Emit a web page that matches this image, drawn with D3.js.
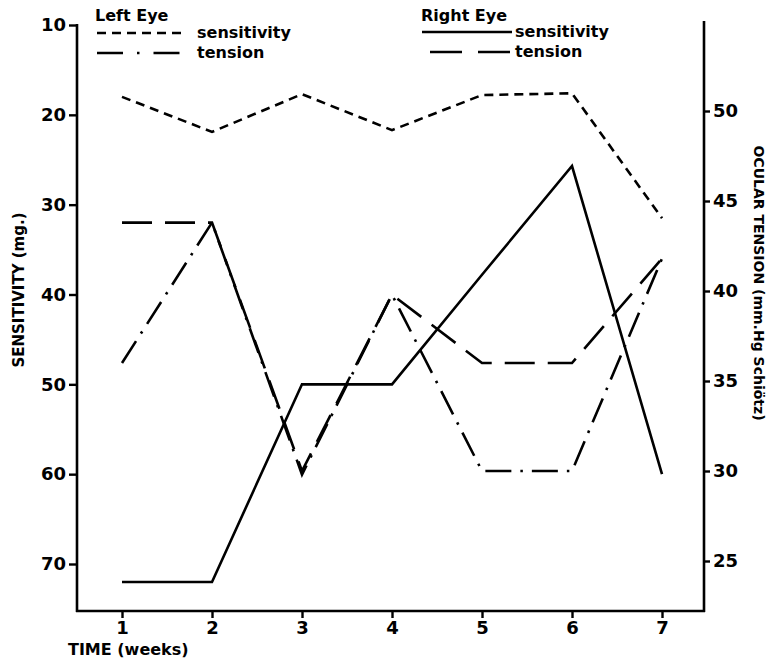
<!DOCTYPE html>
<html>
<head>
<meta charset="utf-8">
<script src="https://cdn.jsdelivr.net/npm/d3@7"></script>
<style>
  html, body { margin: 0; padding: 0; background: #fff; }
  svg { display: block; }
  text { font-family: "DejaVu Sans", sans-serif; font-weight: bold; fill: #000; }
</style>
</head>
<body>
<svg id="chart" width="778" height="660"></svg>
<script>
// Weekly readings for both eyes
const weeks = [1, 2, 3, 4, 5, 6, 7];
const leftSensitivity  = [18.0, 21.9, 17.7, 21.7, 17.8, 17.6, 31.5];
const rightSensitivity = [72.0, 72.0, 50.0, 50.0, 37.8, 25.7, 60.0];
const leftTension      = [36.0, 43.8, 29.8, 39.8, 30.0, 30.0, 41.8];
const rightTension     = [43.8, 43.8, 30.0, 39.8, 36.0, 36.0, 41.8];

// Tick labels
const sensitivityTicks = [10, 20, 30, 40, 50, 60, 70];
const tensionTicks = [25, 30, 35, 40, 45, 50];
const weekTicks = [1, 2, 3, 4, 5, 6, 7];

const svg = d3.select("#chart");

const leftX = 77, rightX = 704, baseY = 611;

const x = d3.scaleLinear().domain([1, 7]).range([122, 662]);
const ySens = d3.scaleLinear().domain([10, 70]).range([25, 564]);
const yTens = d3.scaleLinear().domain([50, 25]).range([111, 561]);

const INK = "#000";
const LW = 2.6;

// Line styles
const styles = {
  leftSens:  "9,6",
  leftTens:  "26,9,2.5,9",
  rightSens: null,
  rightTens: "30,13"
};

// ---- Axes ----
// Left axis (sensitivity)
svg.append("line")
  .attr("x1", leftX).attr("x2", leftX)
  .attr("y1", ySens(10) - 1).attr("y2", baseY + 1)
  .attr("stroke", INK).attr("stroke-width", 2.6);

const leftAxis = svg.append("g")
  .attr("transform", `translate(${leftX},0)`)
  .call(d3.axisLeft(ySens).tickValues(sensitivityTicks).tickSize(8).tickPadding(3));
leftAxis.select(".domain").remove();
leftAxis.selectAll(".tick line").attr("stroke", INK).attr("stroke-width", 2.4);
leftAxis.selectAll(".tick text")
  .style("font-size", "18px").style("font-family", "DejaVu Sans").style("font-weight", "bold")
  .attr("fill", INK);

// Right axis (ocular tension)
svg.append("line")
  .attr("x1", rightX).attr("x2", rightX)
  .attr("y1", 21).attr("y2", baseY + 1)
  .attr("stroke", INK).attr("stroke-width", 2.6);

const rightAxis = svg.append("g")
  .attr("transform", `translate(${rightX},0)`)
  .call(d3.axisRight(yTens).tickValues(tensionTicks).tickSize(6).tickPadding(3));
rightAxis.select(".domain").remove();
rightAxis.selectAll(".tick line").attr("stroke", INK).attr("stroke-width", 2.4);
rightAxis.selectAll(".tick text")
  .style("font-size", "18px").style("font-family", "DejaVu Sans").style("font-weight", "bold")
  .attr("fill", INK);

// Bottom axis (time)
svg.append("line")
  .attr("x1", leftX - 1).attr("x2", rightX + 1)
  .attr("y1", baseY).attr("y2", baseY)
  .attr("stroke", INK).attr("stroke-width", 2.6);

const bottomAxis = svg.append("g")
  .attr("transform", `translate(0,${baseY})`)
  .call(d3.axisBottom(x).tickValues(weekTicks).tickFormat(d3.format("d")).tickSize(7).tickPadding(3));
bottomAxis.select(".domain").remove();
bottomAxis.selectAll(".tick line").attr("stroke", INK).attr("stroke-width", 2.4);
bottomAxis.selectAll(".tick text")
  .style("font-size", "18px").style("font-family", "DejaVu Sans").style("font-weight", "bold")
  .attr("fill", INK);

// Axis titles
svg.append("text")
  .attr("transform", "translate(24,290) rotate(-90)")
  .attr("text-anchor", "middle")
  .style("font-size", "15px")
  .text("SENSITIVITY (mg.)");

svg.append("text")
  .attr("transform", "translate(754,283) rotate(90)")
  .attr("text-anchor", "middle")
  .style("font-size", "14px")
  .text("OCULAR TENSION (mm.Hg Schiötz)");

svg.append("text")
  .attr("x", 68).attr("y", 655)
  .style("font-size", "16px")
  .text("TIME (weeks)");

// ---- Data lines ----
const sensLine = d3.line().x((d, i) => x(weeks[i])).y(d => ySens(d));
const tensLine = d3.line().x((d, i) => x(weeks[i])).y(d => yTens(d));

function drawSeries(values, gen, dash) {
  const p = svg.append("path")
    .datum(values)
    .attr("d", gen)
    .attr("fill", "none")
    .attr("stroke", INK)
    .attr("stroke-width", LW)
    .attr("stroke-linejoin", "miter")
    .attr("stroke-linecap", "butt");
  if (dash) p.attr("stroke-dasharray", dash);
  return p;
}

drawSeries(leftSensitivity, sensLine, styles.leftSens);
drawSeries(rightSensitivity, sensLine, styles.rightSens);
drawSeries(leftTension, tensLine, styles.leftTens);
drawSeries(rightTension, tensLine, styles.rightTens);

// ---- Legend ----
function legendRow(x0, x1, y, dash, label, labelX) {
  const l = svg.append("line")
    .attr("x1", x0).attr("x2", x1).attr("y1", y).attr("y2", y)
    .attr("stroke", INK).attr("stroke-width", LW);
  if (dash) l.attr("stroke-dasharray", dash);
  svg.append("text")
    .attr("x", labelX).attr("y", y + 5)
    .style("font-size", "16px")
    .text(label);
}

svg.append("text").attr("x", 95).attr("y", 21).style("font-size", "16px").text("Left Eye");
legendRow(97, 183, 33, styles.leftSens, "sensitivity", 197);
legendRow(97, 183, 53, "26,14,2.5,14", "tension", 197);

svg.append("text").attr("x", 421).attr("y", 21).style("font-size", "16px").text("Right Eye");
legendRow(422, 512, 32, null, "sensitivity", 515);
legendRow(430, 513, 52, "32,16", "tension", 515);
</script>
</body>
</html>
